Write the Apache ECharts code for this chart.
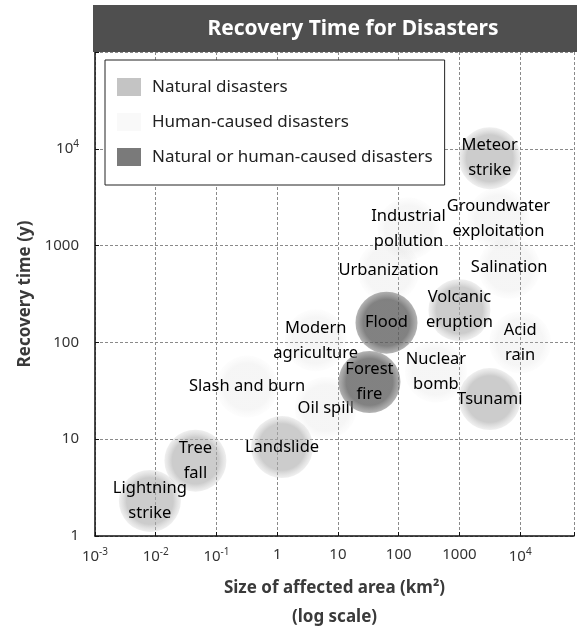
<!DOCTYPE html>
<html>
<head>
<meta charset="utf-8">
<title>Recovery Time for Disasters</title>
<script src="https://cdn.jsdelivr.net/npm/echarts@6/dist/echarts.min.js"></script>
<style>
  html, body { margin: 0; padding: 0; background: #fff; }
  #chart { width: 577px; height: 637px; }
</style>
</head>
<body>
<div id="chart"></div>
<script>
// Disasters: affected area (km²) vs. recovery time (years)
const disasterNames = [
  'Lightning\nstrike', 'Tree\nfall', 'Landslide', 'Slash and burn', 'Oil spill',
  'Modern\nagriculture', 'Flood', 'Forest\nfire', 'Urbanization', 'Industrial\npollution',
  'Meteor\nstrike', 'Groundwater\nexploitation', 'Salination', 'Volcanic\neruption',
  'Acid\nrain', 'Nuclear\nbomb', 'Tsunami'
];
const affectedArea = [0.008, 0.045, 1.2, 0.32, 6.3, 4.3, 63, 33, 68, 145, 3150, 4400, 6600, 1000, 10000, 410, 3150];
const recoveryYears = [2.3, 6, 8.3, 35, 21, 105, 160, 39, 550, 1500, 8000, 1900, 590, 215, 100, 50, 26];
const disasterType = ['natural', 'natural', 'natural', 'human', 'human', 'human', 'both', 'both',
  'human', 'human', 'natural', 'human', 'human', 'natural', 'human', 'human', 'natural'];

const groupNames = {
  natural: 'Natural disasters',
  human: 'Human-caused disasters',
  both: 'Natural or human-caused disasters'
};

// Axis tick labels (powers of ten)
const xTickValues = [0.001, 0.01, 0.1, 1, 10, 100, 1000, 10000];
const xTickLabels = ['10^-3', '10^-2', '10^-1', '1', '10', '100', '1000', '10^4'];
const yTickValues = [1, 10, 100, 1000, 10000];
const yTickLabels = ['1', '10', '100', '1000', '10^4'];

const FONT = '"Noto Sans", "Open Sans", sans-serif';

function richPower(text) {
  const parts = text.split('^');
  return parts.length === 2 ? '{b|' + parts[0] + '}{s|' + parts[1] + '}' : '{b|' + text + '}';
}
function tickFormatter(values, labels) {
  return function (v) {
    for (let i = 0; i < values.length; i++) {
      if (Math.abs(Math.log10(v) - Math.log10(values[i])) < 1e-6) return richPower(labels[i]);
    }
    return '';
  };
}
const tickRich = {
  b: { fontSize: 15, color: '#333', fontFamily: FONT },
  s: { fontSize: 10, color: '#333', fontFamily: FONT, padding: [0, 0, 9, 0] }
};

function radial(inner, outer) {
  return {
    type: 'radial', x: 0.5, y: 0.5, r: 0.5,
    colorStops: [{ offset: 0, color: inner }, { offset: 0.75, color: inner }, { offset: 1, color: outer }]
  };
}
// Stippled bubble fills: light gray, faint, dark gray
const groupStyle = {
  natural: { color: radial('rgba(170,170,170,0.6)', 'rgba(200,200,200,0.28)'), swatch: '#c4c4c4' },
  human: { color: radial('rgba(200,200,200,0.17)', 'rgba(225,225,225,0.07)'), swatch: 'rgba(235,235,235,0.3)' },
  both: { color: radial('rgba(90,90,90,0.76)', 'rgba(120,120,120,0.55)'), swatch: '#7a7a7a' }
};

const series = ['natural', 'human', 'both'].map(function (key) {
  const data = [];
  disasterNames.forEach(function (name, i) {
    if (disasterType[i] === key) data.push({ name: name, value: [affectedArea[i], recoveryYears[i]] });
  });
  return {
    name: groupNames[key],
    type: 'scatter',
    symbol: 'circle',
    symbolSize: 62,
    itemStyle: { color: groupStyle[key].color, opacity: 1 },
    label: {
      show: true,
      position: 'inside',
      formatter: function (p) { return p.name; },
      color: '#000',
      opacity: 1,
      fontFamily: FONT,
      fontSize: 16.5,
      lineHeight: 25,
      textBorderWidth: 0
    },
    emphasis: { disabled: true },
    data: data,
    z: key === 'human' ? 2 : 3
  };
});

const chart = echarts.init(document.getElementById('chart'), null, { renderer: 'canvas' });
chart.setOption({
  animation: false,
  backgroundColor: '#fff',
  graphic: [
    { type: 'rect', left: 93, top: 5, shape: { width: 484, height: 47 }, style: { fill: '#4f4f4f' }, z: 10 },
    {
      type: 'text', x: 353, y: 29, z: 11,
      style: {
        text: 'Recovery Time for Disasters', fill: '#fff', font: 'bold 21px ' + FONT,
        textAlign: 'center', textVerticalAlign: 'middle'
      }
    }
  ],
  legend: {
    orient: 'vertical',
    left: 105, top: 60,
    padding: [18, 12, 19, 12],
    itemGap: 17,
    itemWidth: 24, itemHeight: 18,
    icon: 'rect',
    backgroundColor: '#fff',
    borderColor: '#222', borderWidth: 1,
    textStyle: { fontFamily: FONT, fontSize: 17, color: '#222', padding: [0, 0, 0, 6] },
    selectedMode: false,
    data: ['natural', 'human', 'both'].map(function (key) {
      return { name: groupNames[key], itemStyle: { color: groupStyle[key].swatch, opacity: 1 } };
    }),
    z: 20
  },
  grid: { left: 95, right: 0, top: 52, bottom: 96 },
  xAxis: {
    type: 'log', logBase: 10,
    min: 0.001, max: 77000,
    name: 'Size of affected area (km²)\n(log scale)',
    nameLocation: 'middle', nameGap: 38,
    nameTextStyle: { fontFamily: FONT, fontSize: 17, fontWeight: 'bold', color: '#3a3a3a', lineHeight: 29 },
    axisLine: { show: true, lineStyle: { color: '#111', width: 1.5 } },
    axisTick: { show: true, inside: true, length: 4, lineStyle: { color: '#111' } },
    axisLabel: { formatter: tickFormatter(xTickValues, xTickLabels), rich: tickRich, margin: 11 },
    splitLine: { show: true, lineStyle: { color: '#8a8a8a', type: [3, 2], width: 1 } }
  },
  yAxis: {
    type: 'log', logBase: 10,
    min: 1, max: 100000,
    name: 'Recovery time (y)',
    nameLocation: 'middle', nameGap: 46,
    nameTextStyle: { fontFamily: FONT, fontSize: 17, fontWeight: 'bold', color: '#3a3a3a' },
    axisLine: { show: true, lineStyle: { color: '#111', width: 1.5 } },
    axisTick: { show: true, inside: true, length: 4, lineStyle: { color: '#111' } },
    axisLabel: { formatter: tickFormatter(yTickValues, yTickLabels), rich: tickRich, margin: 16 },
    splitLine: { show: true, lineStyle: { color: '#8a8a8a', type: [3, 2], width: 1 } }
  },
  series: series
});
</script>
</body>
</html>
